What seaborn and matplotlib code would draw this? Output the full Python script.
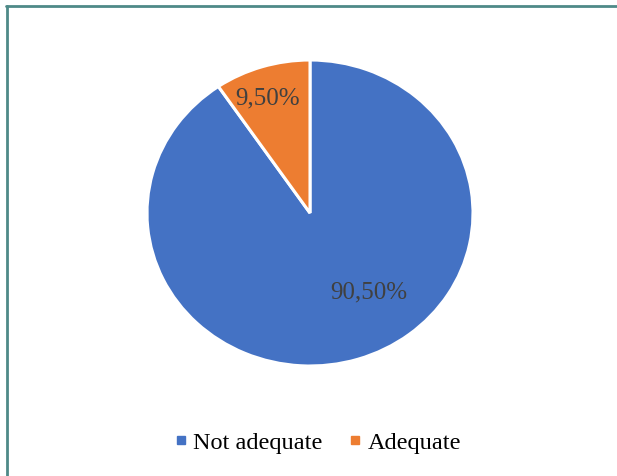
import matplotlib
matplotlib.use("Agg")
import matplotlib.pyplot as plt
import seaborn as sns
from matplotlib.lines import Line2D

sns.set_theme(style="white")
plt.rcParams['font.family'] = ['Liberation Serif', 'DejaVu Serif']

categories = ["Not adequate", "Adequate"]
values = [90.5, 9.5]
colors = ["#4472C4", "#ED7D31"]

fig = plt.figure(figsize=(6.17, 4.77), dpi=100)
ax = fig.add_axes([147/617, 1 - 367/477, 326/617, 306/477])

wedges, texts, autotexts = ax.pie(
    values, colors=colors, startangle=90, counterclock=False,
    autopct=lambda p: f"{p:.2f}%".replace(".", ","),
    wedgeprops=dict(edgecolor="white", linewidth=2.2),
    textprops=dict(fontsize=18, color="#404040"),
)
ax.set_aspect('auto')
ax.set_xlim(-1, 1)
ax.set_ylim(-1, 1)
label_pos = [(0.362, -0.51), (-0.258, 0.758)]
for t, p in zip(autotexts, label_pos):
    t.set_position(p)
    t.set_ha("center"); t.set_va("center")

handles = [Line2D([0], [0], marker='s', linestyle='', markersize=5.5,
                  markerfacecolor=c, markeredgecolor=c) for c in colors]
fig.legend(handles, categories, loc="center", bbox_to_anchor=(316/617, 1 - 443/477),
           ncol=2, frameon=False, fontsize=17.5, handletextpad=0.1, columnspacing=0.95,
           handlelength=0.8, labelcolor="black")

border = "#4E8A88"
fig.add_artist(Line2D([7/617, 7/617], [0, 1 - 7/477], color=border, lw=2, transform=fig.transFigure))
fig.add_artist(Line2D([6/617, 1], [1 - 7/477, 1 - 7/477], color=border, lw=2, transform=fig.transFigure))

fig.savefig("out.png", dpi=100, facecolor="white")
